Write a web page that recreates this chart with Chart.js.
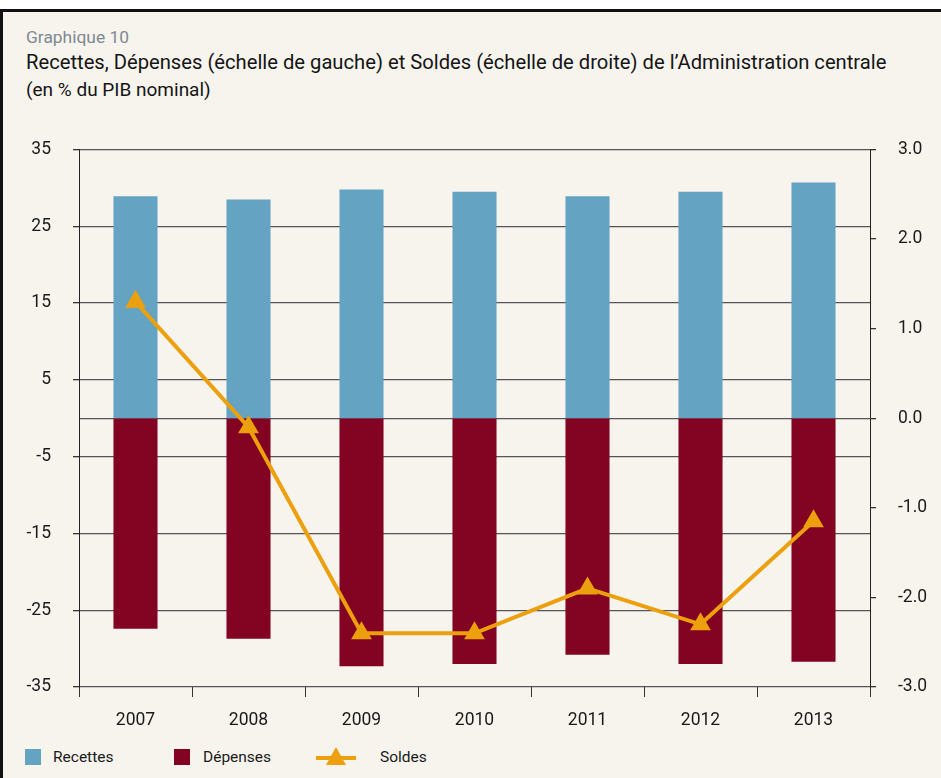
<!DOCTYPE html>
<html>
<head>
<meta charset="utf-8">
<script src="https://cdn.jsdelivr.net/npm/chart.js@4/dist/chart.umd.min.js"></script>
<style>
  html, body { margin: 0; padding: 0; background: #ffffff; }
  #frame {
    position: absolute; left: 0; top: 9px; width: 938px; height: 769px;
    background: #f7f4ee; border-top: 3px solid #111; border-left: 3px solid #111;
    font-family: Roboto, "DejaVu Sans", sans-serif; color: #1a1a1a;
  }
  .txt { position: absolute; white-space: nowrap; }
  #kicker { left: 23px; top: 15px; font-size: 17.4px; color: #7f8991; }
  #title { left: 23px; top: 38px; font-size: 20.2px; color: #151515; }
  #sub { left: 23px; top: 66px; font-size: 19px; color: #151515; }
  #chartBox { position: absolute; left: -3px; top: 105px; width: 941px; height: 623px; }
  .sw { position: absolute; width: 16px; height: 16px; }
  .lg { position: absolute; font-size: 15.5px; top: 736px; color: #1a1a1a; }
</style>
</head>
<body>
<div id="frame">
  <div class="txt" id="kicker">Graphique 10</div>
  <div class="txt" id="title">Recettes, Dépenses (échelle de gauche) et Soldes (échelle de droite) de l’Administration centrale</div>
  <div class="txt" id="sub">(en % du PIB nominal)</div>
  <div id="chartBox"><canvas id="chart"></canvas></div>

  <div class="sw" style="left:22px; top:737px; background:#65a3c3;"></div>
  <div class="lg" style="left:50px;">Recettes</div>
  <div class="sw" style="left:171px; top:737px; background:#830322;"></div>
  <div class="lg" style="left:200px;">Dépenses</div>
  <svg style="position:absolute; left:312px; top:733px;" width="42" height="24">
    <line x1="1" y1="13" x2="41" y2="13" stroke="#eca00e" stroke-width="4"/>
    <polygon points="21,2 31,20 11,20" fill="#eca00e"/>
  </svg>
  <div class="lg" style="left:377px;">Soldes</div>
</div>

<script>
// categories and values
const years = ['2007', '2008', '2009', '2010', '2011', '2012', '2013'];
const recettes = [28.9, 28.5, 29.8, 29.5, 28.9, 29.5, 30.7];
const depenses = [-27.4, -28.7, -32.3, -32.0, -30.8, -32.0, -31.7];
const soldes = [1.3, -0.1, -2.4, -2.4, -1.9, -2.3, -1.15];

const leftTicks = [35, 25, 15, 5, -5, -15, -25, -35];

const tickFont = { family: 'Roboto', size: 17.5 };

function makeChart() {
    const ctx = document.getElementById('chart');

    new Chart(ctx, {
        type: 'bar',
        data: {
            labels: years,
            datasets: [
                {
                    type: 'line',
                    label: 'Soldes',
                    data: soldes,
                    yAxisID: 'y1',
                    borderColor: '#eca00e',
                    backgroundColor: '#eca00e',
                    borderWidth: 4,
                    pointStyle: 'triangle',
                    pointRadius: 12,
                    pointBorderWidth: 0,
                    tension: 0,
                    order: 0
                },
                {
                    label: 'Recettes',
                    data: recettes,
                    backgroundColor: '#65a3c3',
                    barPercentage: 0.39,
                    categoryPercentage: 1,
                    stack: 's',
                    order: 1
                },
                {
                    label: 'Dépenses',
                    data: depenses,
                    backgroundColor: '#830322',
                    barPercentage: 0.39,
                    categoryPercentage: 1,
                    stack: 's',
                    order: 1
                }
            ]
        },
        options: {
            responsive: true,
            maintainAspectRatio: false,
            animation: false,
            layout: { padding: { top: 17, bottom: 0, left: 0, right: 0 } },
            plugins: {
                legend: { display: false },
                tooltip: { enabled: false }
            },
            scales: {
                x: {
                    stacked: true,
                    afterFit: (axis) => { axis.height = 53; },
                    grid: {
                        offset: true,
                        drawOnChartArea: false,
                        drawTicks: true,
                        tickLength: 10,
                        color: '#333'
                    },
                    border: { display: false },
                    ticks: { color: '#1a1a1a', font: tickFont, padding: 13 }
                },
                y: {
                    stacked: true,
                    position: 'left',
                    min: -35,
                    max: 35,
                    afterFit: (axis) => { axis.width = 79; },
                    afterBuildTicks: (axis) => {
                        axis.ticks = leftTicks.map(v => ({ value: v }));
                    },
                    grid: {
                        color: '#555',
                        lineWidth: 1.3,
                        tickLength: 6,
                        tickColor: '#333'
                    },
                    border: { display: true, color: '#222', width: 1 },
                    ticks: { color: '#1a1a1a', font: tickFont, padding: 22 }
                },
                y1: {
                    position: 'right',
                    min: -3,
                    max: 3,
                    afterFit: (axis) => { axis.width = 71; },
                    grid: {
                        drawOnChartArea: true,
                        color: (c) => (c.tick && c.tick.value === 0 ? '#555' : 'rgba(0,0,0,0)'),
                        lineWidth: 1.3,
                        tickLength: 6,
                        tickColor: '#333'
                    },
                    border: { display: true, color: '#222', width: 1 },
                    ticks: {
                        stepSize: 1,
                        color: '#1a1a1a',
                        font: tickFont,
                        padding: 22,
                        callback: (v) => v.toFixed(1)
                    }
                }
            }
        }
    });
}

makeChart();
</script>
</body>
</html>
